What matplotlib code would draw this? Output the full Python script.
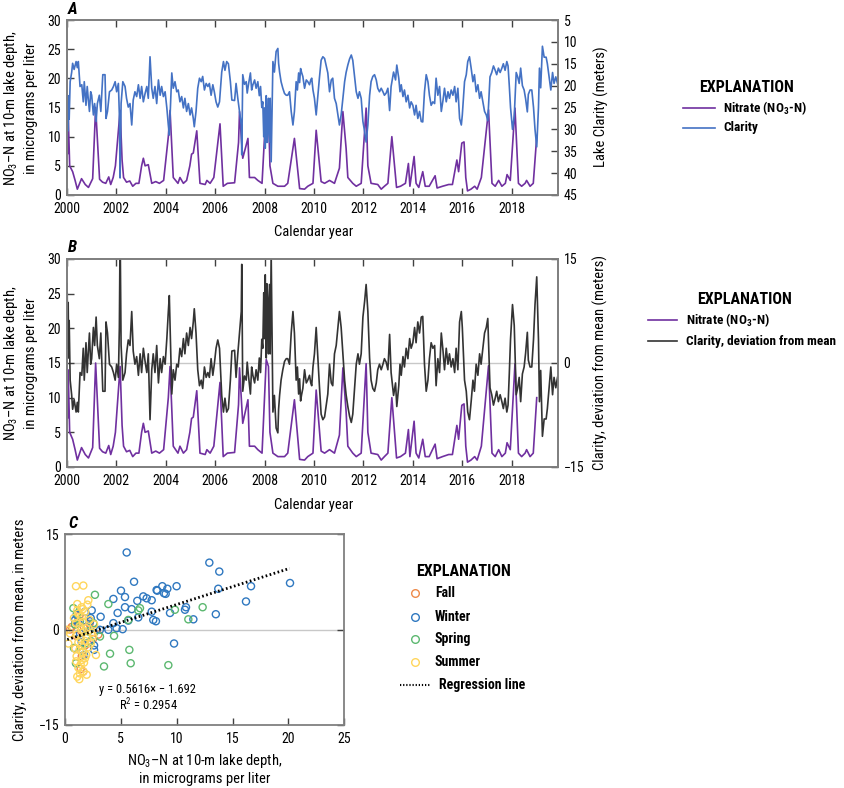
import numpy as np
import matplotlib
matplotlib.use("Agg")
import matplotlib.pyplot as plt
from matplotlib.lines import Line2D
from matplotlib import font_manager

# ---------------- data ----------------
nitrate_year = [2000.00, 2000.03, 2000.06, 2000.12, 2000.24, 2000.34, 2000.43, 2000.60, 2000.75, 2000.88,
                2001.05, 2001.17, 2001.33, 2001.45, 2001.58, 2001.70, 2001.78, 2001.88, 2001.97, 2002.16,
                2002.24, 2002.30, 2002.42, 2002.55, 2002.67, 2002.80, 2002.92, 2003.03, 2003.10, 2003.17,
                2003.30, 2003.44, 2003.60, 2003.75, 2003.92, 2004.11, 2004.18, 2004.31, 2004.50, 2004.58,
                2004.72, 2004.85, 2004.98, 2005.05, 2005.12, 2005.26, 2005.39, 2005.60, 2005.67, 2005.80,
                2005.95, 2006.20, 2006.33, 2006.50, 2006.79, 2006.95, 2006.99, 2007.12, 2007.33, 2007.39,
                2007.60, 2007.73, 2007.90, 2008.07, 2008.16, 2008.22, 2008.34, 2008.54, 2008.81, 2008.94,
                2009.21, 2009.42, 2009.62, 2009.75, 2009.96, 2010.09, 2010.29, 2010.43, 2010.63, 2010.83,
                2011.03, 2011.17, 2011.30, 2011.37, 2011.57, 2011.71, 2011.91, 2012.11, 2012.18, 2012.31,
                2012.58, 2012.72, 2012.85, 2012.99, 2013.15, 2013.30, 2013.34, 2013.50, 2013.70, 2013.82,
                2013.88, 2014.05, 2014.13, 2014.24, 2014.40, 2014.50, 2014.66, 2014.90, 2014.98, 2015.20,
                2015.45, 2015.60, 2015.78, 2015.85, 2015.98, 2016.07, 2016.14, 2016.21, 2016.35, 2016.50,
                2016.60, 2016.77, 2017.06, 2017.20, 2017.33, 2017.47, 2017.60, 2017.74, 2017.81, 2017.94,
                2018.13, 2018.27, 2018.40, 2018.54, 2018.60, 2018.74, 2018.87, 2019.01]
nitrate_ugL = [24.0, 7.0, 14.0, 5.0, 4.0, 2.5, 1.0, 2.8, 1.8, 1.3,
               2.8, 15.0, 2.7, 2.2, 2.0, 3.1, 1.8, 3.0, 5.0, 14.5,
               6.0, 3.0, 2.2, 2.4, 1.5, 2.0, 2.0, 5.0, 6.3, 5.0,
               5.2, 2.0, 2.3, 2.0, 2.5, 10.0, 14.5, 3.0, 2.0, 3.0,
               2.0, 2.5, 5.0, 7.0, 7.2, 11.0, 2.0, 1.8, 2.5, 2.0,
               3.0, 12.2, 1.5, 2.0, 2.1, 9.0, 14.3, 6.3, 9.7, 3.0,
               3.0, 2.5, 2.0, 15.5, 14.5, 5.0, 2.0, 1.5, 1.5, 2.0,
               9.7, 1.1, 1.0, 1.5, 2.0, 11.1, 2.3, 2.0, 2.5, 2.0,
               4.6, 14.3, 8.0, 3.0, 2.0, 1.5, 2.0, 14.9, 5.0, 2.0,
               1.8, 1.0, 1.5, 2.0, 10.0, 3.0, 1.3, 1.5, 2.0, 5.4,
               1.5, 6.6, 2.0, 1.3, 4.0, 1.5, 1.5, 3.3, 1.2, 1.5,
               1.8, 1.8, 6.0, 4.0, 8.9, 9.1, 3.0, 0.7, 1.0, 1.5,
               1.0, 3.0, 14.6, 2.0, 1.5, 2.5, 1.5, 2.0, 3.5, 2.5,
               14.9, 2.0, 1.5, 2.0, 2.5, 1.5, 2.0, 10.0]

clarity_year = [2000.00, 2000.01, 2000.02, 2000.04, 2000.06, 2000.08, 2000.10, 2000.14, 2000.20, 2000.24,
                2000.30, 2000.38, 2000.43, 2000.47, 2000.54, 2000.61, 2000.67, 2000.71, 2000.78, 2000.83,
                2000.87, 2000.92, 2000.97, 2001.01, 2001.08, 2001.13, 2001.19, 2001.24, 2001.32, 2001.38,
                2001.46, 2001.55, 2001.59, 2001.65, 2001.73, 2001.82, 2001.89, 2001.96, 2002.02, 2002.09,
                2002.13, 2002.16, 2002.20, 2002.27, 2002.36, 2002.42, 2002.49, 2002.56, 2002.63, 2002.69,
                2002.76, 2002.83, 2002.90, 2002.97, 2003.03, 2003.10, 2003.17, 2003.24, 2003.30, 2003.37,
                2003.44, 2003.50, 2003.57, 2003.64, 2003.71, 2003.78, 2003.84, 2003.91, 2003.98, 2004.05,
                2004.11, 2004.15, 2004.25, 2004.31, 2004.38, 2004.45, 2004.51, 2004.58, 2004.65, 2004.72,
                2004.78, 2004.85, 2004.92, 2004.99, 2005.05, 2005.12, 2005.16, 2005.23, 2005.30, 2005.37,
                2005.44, 2005.50, 2005.57, 2005.64, 2005.71, 2005.77, 2005.84, 2005.91, 2005.97, 2006.04,
                2006.11, 2006.18, 2006.27, 2006.34, 2006.40, 2006.47, 2006.54, 2006.62, 2006.68, 2006.79,
                2006.85, 2006.92, 2006.99, 2007.06, 2007.08, 2007.12, 2007.19, 2007.26, 2007.30, 2007.35,
                2007.43, 2007.48, 2007.53, 2007.60, 2007.66, 2007.73, 2007.79, 2007.84, 2007.89, 2007.93,
                2007.97, 2008.00, 2008.03, 2008.07, 2008.10, 2008.13, 2008.16, 2008.20, 2008.23, 2008.27,
                2008.34, 2008.40, 2008.47, 2008.54, 2008.57, 2008.61, 2008.67, 2008.74, 2008.81, 2008.88,
                2008.94, 2009.01, 2009.08, 2009.15, 2009.21, 2009.28, 2009.33, 2009.38, 2009.42, 2009.46,
                2009.50, 2009.55, 2009.62, 2009.69, 2009.75, 2009.82, 2009.87, 2009.91, 2009.96, 2010.02,
                2010.09, 2010.16, 2010.22, 2010.29, 2010.36, 2010.43, 2010.49, 2010.56, 2010.63, 2010.70,
                2010.76, 2010.83, 2010.90, 2010.97, 2011.03, 2011.10, 2011.17, 2011.24, 2011.30, 2011.37,
                2011.44, 2011.51, 2011.57, 2011.64, 2011.71, 2011.78, 2011.84, 2011.91, 2011.98, 2012.05,
                2012.11, 2012.18, 2012.25, 2012.31, 2012.38, 2012.45, 2012.52, 2012.58, 2012.65, 2012.72,
                2012.79, 2012.85, 2012.92, 2012.99, 2013.06, 2013.12, 2013.22, 2013.30, 2013.35, 2013.43,
                2013.48, 2013.53, 2013.60, 2013.66, 2013.73, 2013.80, 2013.87, 2013.93, 2014.00, 2014.07,
                2014.13, 2014.20, 2014.27, 2014.34, 2014.40, 2014.47, 2014.54, 2014.61, 2014.67, 2014.74,
                2014.81, 2014.88, 2014.94, 2015.01, 2015.08, 2015.15, 2015.22, 2015.28, 2015.35, 2015.42,
                2015.48, 2015.55, 2015.62, 2015.69, 2015.75, 2015.82, 2015.89, 2015.96, 2016.00, 2016.09,
                2016.16, 2016.22, 2016.29, 2016.36, 2016.43, 2016.49, 2016.56, 2016.63, 2016.70, 2016.76,
                2016.83, 2016.90, 2016.97, 2017.03, 2017.12, 2017.19, 2017.26, 2017.33, 2017.39, 2017.46,
                2017.53, 2017.60, 2017.66, 2017.73, 2017.80, 2017.85, 2017.90, 2017.95, 2018.03, 2018.10,
                2018.18, 2018.24, 2018.30, 2018.36, 2018.43, 2018.50, 2018.56, 2018.63, 2018.67, 2018.74,
                2018.81, 2018.88, 2018.94, 2019.01, 2019.08, 2019.12, 2019.17, 2019.24, 2019.31, 2019.39,
                2019.44, 2019.52, 2019.58, 2019.65, 2019.71, 2019.78, 2019.85]
clarity_m = [33.0, 23.7, 31.7, 25.0, 30.3, 22.3, 27.7, 19.1, 17.0, 14.9,
             16.3, 14.5, 15.9, 14.5, 20.2, 19.8, 23.7, 19.1, 24.5, 20.2,
             22.9, 25.9, 21.4, 22.2, 26.7, 24.1, 28.2, 24.1, 22.2, 25.9,
             17.5, 17.5, 27.5, 25.9, 21.4, 21.0, 20.2, 19.1, 21.4, 19.5,
             26.7, 41.1, 24.1, 19.1, 20.2, 22.9, 24.9, 24.1, 29.0, 23.3,
             21.4, 22.5, 19.8, 22.9, 20.2, 23.7, 21.8, 20.2, 22.9, 13.4,
             20.6, 22.9, 20.2, 24.1, 18.7, 22.2, 20.2, 22.5, 21.4, 25.1,
             29.0, 31.3, 17.1, 20.6, 19.1, 21.4, 21.0, 23.7, 22.5, 25.1,
             22.9, 25.9, 24.1, 26.7, 25.1, 27.5, 29.4, 25.9, 20.6, 18.3,
             19.1, 17.9, 21.0, 19.5, 20.2, 19.5, 22.2, 19.8, 21.4, 23.7,
             24.9, 23.7, 16.9, 14.5, 16.5, 14.5, 15.0, 19.1, 23.3, 23.4,
             19.5, 22.9, 25.9, 29.0, 35.8, 17.5, 19.7, 19.1, 21.7, 19.8,
             17.1, 21.0, 19.8, 18.7, 20.6, 19.1, 22.3, 20.2, 25.0, 23.7,
             31.7, 25.1, 34.3, 22.3, 33.0, 30.5, 22.9, 32.9, 22.9, 37.4,
             14.5, 16.9, 12.2, 11.5, 14.9, 16.9, 19.1, 20.6, 21.8, 22.2,
             22.2, 21.4, 25.9, 29.0, 25.9, 19.1, 21.0, 17.1, 19.3, 16.1,
             17.0, 17.9, 20.6, 18.7, 19.1, 19.8, 18.7, 18.3, 21.0, 22.9,
             26.7, 22.2, 18.3, 14.2, 13.4, 13.8, 15.3, 17.1, 21.4, 18.7,
             18.3, 22.9, 24.1, 26.7, 29.0, 26.7, 23.0, 19.1, 17.0, 15.3,
             13.9, 13.0, 14.2, 17.9, 21.4, 22.9, 21.4, 22.9, 28.2, 30.5,
             32.9, 29.0, 22.3, 19.1, 17.9, 17.5, 18.7, 20.6, 21.4, 20.6,
             21.4, 22.2, 21.7, 20.6, 25.7, 20.2, 16.9, 18.7, 15.3, 18.3,
             21.4, 19.8, 22.5, 21.0, 23.7, 22.2, 25.1, 23.7, 24.5, 26.7,
             24.5, 27.5, 25.9, 28.2, 28.3, 21.4, 17.5, 19.1, 22.2, 24.5,
             23.7, 24.1, 18.3, 22.2, 20.2, 25.9, 23.3, 20.6, 23.7, 21.4,
             22.9, 21.0, 22.2, 20.2, 23.7, 20.6, 27.5, 29.0, 26.7, 19.1,
             17.5, 14.5, 13.4, 16.1, 19.1, 17.5, 21.4, 19.8, 22.9, 21.4,
             23.7, 25.9, 26.7, 28.0, 18.0, 17.0, 15.5, 16.5, 17.5, 16.0,
             17.0, 16.0, 15.0, 16.5, 14.5, 15.5, 20.0, 25.0, 30.0, 27.0,
             17.0, 18.0, 19.5, 16.0, 20.0, 21.0, 23.0, 26.0, 22.0, 21.0,
             21.0, 25.0, 30.0, 34.0, 25.0, 16.0, 20.5, 11.0, 13.5, 13.5,
             15.0, 18.5, 21.0, 17.0, 19.5, 18.0, 19.5]

# Scatter (panel C): nitrate (x) vs clarity deviation (y), by season
fall_x = [0.60, 0.45, 1.64, 2.98, 1.30, 1.00, 1.80, 2.20, 1.50, 1.20, 0.90, 2.50, 1.70, 1.40]
fall_y = [0.4, 0.0, -6.6, -0.8, 2.2, -1.0, -2.5, 0.9, -4.2, 1.5, -3.0, -1.5, 0.3, -6.2]
winter_x = [5.52, 12.92, 13.81, 6.18, 20.14, 16.65, 13.72, 9.99, 8.71, 9.16, 8.20, 8.26, 5.01, 8.86,
            9.01, 5.37, 7.01, 7.31, 4.33, 7.76, 6.47, 16.20, 5.37, 5.97, 10.83, 10.74, 4.71, 7.76,
            9.40, 13.50, 6.56, 3.19, 11.49, 7.90, 8.14, 4.33, 5.67, 4.62, 5.16, 3.88, 3.13, 9.76,
            2.60, 1.04, 1.79, 2.39, 0.90, 2.24, 2.83, 1.34, 1.94, 1.20, 1.50, 2.00, 2.60, 1.70, 2.30]
winter_y = [12.1, 10.5, 9.1, 7.5, 7.3, 6.8, 6.4, 6.8, 6.8, 6.4, 6.2, 6.1, 6.1, 5.7,
            5.6, 5.1, 5.2, 4.9, 4.8, 4.6, 4.5, 4.4, 3.5, 3.2, 3.5, 3.1, 2.6, 2.8,
            2.6, 2.4, 1.9, 2.0, 1.6, 1.5, 1.3, 1.0, 1.4, 0.2, 0.05, -0.05, -0.05, -2.2,
            -3.2, 2.3, 2.8, 3.0, 1.5, 1.3, -0.05, -0.6, -1.1, 1.0, -2.0, 0.5, -2.5, -4.0, 1.8]
spring_x = [2.68, 3.88, 0.75, 12.32, 6.71, 9.84, 6.56, 11.04, 5.67, 4.39, 3.13, 5.76, 4.03, 5.88,
            3.49, 9.25, 0.80, 0.98, 1.34, 2.09, 2.54, 1.79, 1.10, 2.30, 1.60, 0.90]
spring_y = [5.45, 4.0, 3.35, 3.5, 3.35, 3.1, 3.0, 1.6, 1.5, -1.0, -1.1, -3.2, -3.8, -5.3,
            -5.8, -5.6, -2.9, -5.3, 1.3, -0.3, 1.0, -2.2, 2.5, -1.8, -3.5, 0.8]
summer_x = [0.98, 1.64, 2.09, 1.10, 2.00, 1.49, 0.30, 0.15, 0.45, 2.77, 1.34, 1.94, 1.10, 1.28,
            1.64, 1.49, 1.79, 1.04, 1.20, 1.50, 1.80, 2.20, 1.00, 1.30, 1.60, 1.90, 2.40, 1.10,
            1.40, 1.70, 2.00, 2.50, 1.20, 1.50, 1.80, 0.90, 1.30, 1.60, 2.10, 1.00, 1.40, 1.70,
            1.20, 1.90, 2.30, 1.50, 0.80, 1.10, 1.60, 2.60]
summer_y = [6.8, 6.9, 4.6, 4.0, 3.9, 3.5, -2.2, -0.05, -0.6, -4.0, -6.9, -7.1, -7.4, -7.8,
            -6.6, -4.8, -4.5, -4.2, 2.5, 2.0, 2.8, 1.5, 1.0, 0.5, 1.2, 0.2, -0.5, -0.8,
            -1.5, -0.3, -1.2, -1.0, -2.0, -2.5, -1.8, -3.0, -3.2, -3.6, -2.8, -5.0, -5.5, -5.2,
            -6.0, -4.0, -2.2, 0.0, 1.8, 3.0, 3.2, 0.8]

reg_slope = 0.5616
reg_intercept = -1.692
reg_r2 = 0.2954
reg_x_range = [0.2, 20.1]

year_ticks = list(range(2000, 2019, 2))

# ---------------- fonts ----------------
names = {f.name for f in font_manager.fontManager.ttflist}
FONT = "DejaVu Sans"
for cand in ["Liberation Sans Narrow", "Roboto Condensed", "Open Sans Condensed", "Liberation Sans"]:
    if cand in names:
        FONT = cand
        break
plt.rcParams["font.family"] = [FONT, "DejaVu Sans"]
plt.rcParams["mathtext.fontset"] = "custom"
plt.rcParams["mathtext.rm"] = FONT
plt.rcParams["mathtext.it"] = FONT + ":italic"
plt.rcParams["mathtext.bf"] = FONT + ":bold"

W, H = 845, 788
def fx(p):
    return p / W
def fy(p):
    return 1 - p / H

SPINE = "#808080"
TICKC = "#404040"
PURPLE = "#7030A0"
BLUE = "#4472C4"
BLACK = "#333333"
TS = 10
LS = 10.5
LEG = 9.5

fig = plt.figure(figsize=(W / 100, H / 100), dpi=100)

def style(ax):
    for s in ax.spines.values():
        s.set_color(SPINE)
        s.set_linewidth(1.3)
    ax.tick_params(direction="in", length=5, width=1, color=TICKC, labelsize=TS, pad=4)

# ---------------- panel A ----------------
axA = fig.add_axes([fx(66.7), fy(195), fx(558) - fx(66.7), 175 / H])
axA.plot(nitrate_year, nitrate_ugL, color=PURPLE, lw=1.2)
axA.set_xlim(2000, 2019.87)
axA.set_ylim(0, 30)
axA.set_yticks(range(0, 31, 5))
axA.set_xticks(year_ticks)
style(axA)
axA.tick_params(axis="x", top=True, pad=5)
axA2 = axA.twinx()
axA2.plot(clarity_year, clarity_m, color=BLUE, lw=1.2)
axA2.set_ylim(45, 5)
axA2.set_yticks(range(5, 46, 5))
style(axA2)

# ---------------- panel B ----------------
clar = np.array(clarity_m)
deviation = clar - clar.mean()
axB = fig.add_axes([fx(66.7), fy(467), fx(558) - fx(66.7), 208 / H])
axB.axhline(15, color="#c8c8c8", lw=1, zorder=0)
axB.plot(nitrate_year, nitrate_ugL, color=PURPLE, lw=1.2)
axB.set_xlim(2000, 2019.87)
axB.set_ylim(0, 30)
axB.set_yticks(range(0, 31, 5))
axB.set_xticks(year_ticks)
style(axB)
axB.tick_params(axis="x", top=True, pad=5)
axB2 = axB.twinx()
axB2.plot(clarity_year, deviation, color=BLACK, lw=1.2)
axB2.set_ylim(-15, 15)
axB2.set_yticks([-15, 0, 15])
style(axB2)

# ---------------- panel C ----------------
axC = fig.add_axes([fx(65), fy(725), fx(344.3) - fx(65), 191 / H])
axC.axhline(0, color="#c8c8c8", lw=1, zorder=0)
mk = dict(s=26, facecolors="none", linewidths=1.0)
axC.scatter(fall_x, fall_y, edgecolors="#EE8A4A", **mk)
axC.scatter(winter_x, winter_y, edgecolors="#2F78C0", **mk)
axC.scatter(spring_x, spring_y, edgecolors="#5CB870", **mk)
axC.scatter(summer_x, summer_y, edgecolors="#FFD65C", **mk)
rx = np.array(reg_x_range)
axC.plot(rx, reg_slope * rx + reg_intercept, color="black", lw=2.0, linestyle=(0, (0.6, 0.9)))
axC.set_xlim(0, 25)
axC.set_ylim(-15, 15)
axC.set_xticks(range(0, 26, 5))
axC.set_yticks([-15, 0, 15])
style(axC)
axC.tick_params(axis="y", right=True)
axC.tick_params(axis="x", pad=5)
axC.text(0.295, 0.185, "y = %.4f× − %.3f" % (reg_slope, -reg_intercept), transform=axC.transAxes,
         ha="center", va="center", fontsize=9)
axC.text(0.30, 0.105, "R$^2$ = %.4f" % reg_r2, transform=axC.transAxes,
         ha="center", va="center", fontsize=9)

# ---------------- labels ----------------
no3_label = "NO$_3$–N at 10-m lake depth,\nin micrograms per liter"
fig.text(fx(20), fy(108), no3_label, rotation=90, ha="center", va="center", fontsize=LS, linespacing=1.3)
fig.text(fx(20), fy(363), no3_label, rotation=90, ha="center", va="center", fontsize=LS, linespacing=1.3)
fig.text(fx(601.5), fy(107), "Lake Clarity (meters)", rotation=90, ha="center", va="center", fontsize=LS)
fig.text(fx(600), fy(363), "Clarity, deviation from mean (meters)", rotation=90, ha="center", va="center", fontsize=LS)
fig.text(fx(20), fy(629.5), "Clarity, deviation from mean, in meters", rotation=90, ha="center", va="center", fontsize=LS)
fig.text(fx(205), fy(769), "NO$_3$–N at 10-m lake depth,\nin micrograms per liter", ha="center", va="center",
         fontsize=LS, linespacing=1.25)
fig.text(fx(314), fy(232), "Calendar year", ha="center", va="center", fontsize=LS)
fig.text(fx(314), fy(505), "Calendar year", ha="center", va="center", fontsize=LS)
for letter, ypx in [("A", 10), ("B", 248), ("C", 523)]:
    fig.text(fx(68), fy(ypx), letter, ha="left", va="center", fontsize=12, fontweight="bold", fontstyle="italic")

# ---------------- explanations ----------------
def legline(x0, x1, y, **kw):
    fig.add_artist(Line2D([fx(x0), fx(x1)], [fy(y), fy(y)], transform=fig.transFigure, **kw))

nitrate_lbl = "Nitrate (NO$_\\mathbf{3}$-N)"
fig.text(fx(746.5), fy(87), "EXPLANATION", ha="center", va="center", fontsize=11.5, fontweight="bold")
legline(683, 715, 108, color=PURPLE, lw=1.2)
legline(683, 715, 128, color=BLUE, lw=1.2)
fig.text(fx(723), fy(108), nitrate_lbl, ha="left", va="center", fontsize=LEG, fontweight="bold")
fig.text(fx(723), fy(128), "Clarity", ha="left", va="center", fontsize=LEG, fontweight="bold")

fig.text(fx(744.5), fy(300), "EXPLANATION", ha="center", va="center", fontsize=11.5, fontweight="bold")
legline(648, 677, 320, color=PURPLE, lw=1.2)
legline(648, 677, 341, color=BLACK, lw=1.2)
fig.text(fx(686.5), fy(320), nitrate_lbl, ha="left", va="center", fontsize=LEG, fontweight="bold")
fig.text(fx(686.5), fy(341), "Clarity, deviation from mean", ha="left", va="center", fontsize=LEG, fontweight="bold")

fig.text(fx(464), fy(572), "EXPLANATION", ha="center", va="center", fontsize=11.5, fontweight="bold")
for name, col, ypx in [("Fall", "#EE8A4A", 593), ("Winter", "#2F78C0", 617),
                       ("Spring", "#5CB870", 639), ("Summer", "#FFD65C", 662)]:
    fig.add_artist(Line2D([fx(415)], [fy(ypx)], transform=fig.transFigure, marker="o", markersize=5.5,
                          markerfacecolor="none", markeredgecolor=col, markeredgewidth=1.0, linestyle="none"))
    fig.text(fx(435), fy(ypx), name, ha="left", va="center", fontsize=LEG + 0.5, fontweight="bold")
legline(400, 430, 685, color="black", lw=1.5, linestyle=(0, (0.6, 0.9)))
fig.text(fx(439), fy(685), "Regression line", ha="left", va="center", fontsize=LEG + 0.5, fontweight="bold")

fig.savefig("out.png", dpi=100)
